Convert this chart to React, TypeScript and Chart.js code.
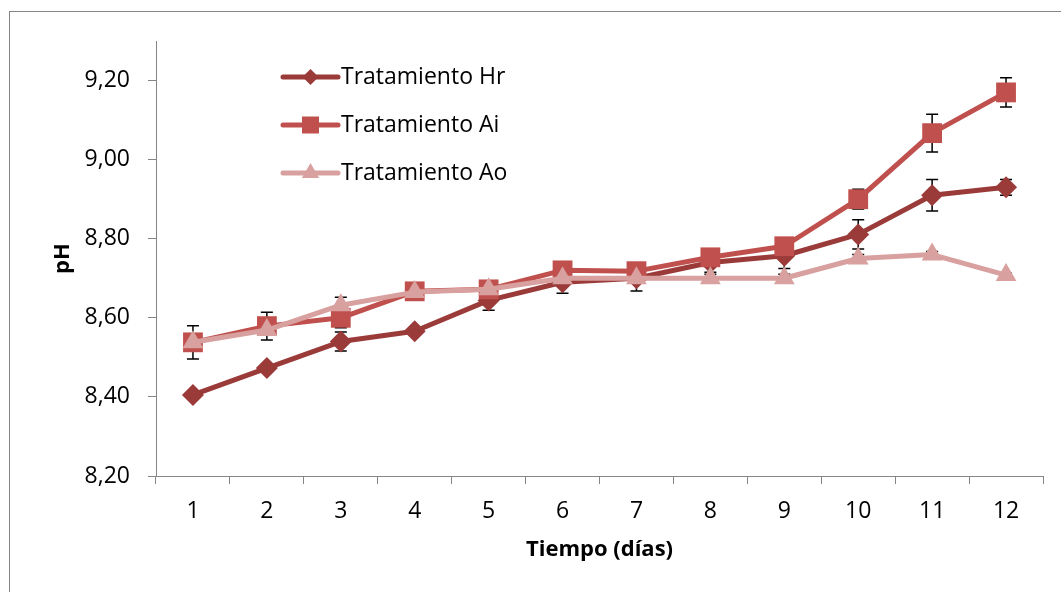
import React, { useEffect, useRef } from "react";
import { Chart, registerables } from "chart.js";

Chart.register(...registerables);

const categories = ["1", "2", "3", "4", "5", "6", "7", "8", "9", "10", "11", "12"];
const hrValues = [8.405, 8.473, 8.54, 8.566, 8.644, 8.69, 8.7, 8.74, 8.757, 8.811, 8.91, 8.93];
const aiValues = [8.538, 8.579, 8.6, 8.667, 8.672, 8.72, 8.718, 8.753, 8.781, 8.9, 9.067, 9.17];
const aoValues = [8.538, 8.569, 8.632, 8.665, 8.672, 8.7, 8.7, 8.7, 8.7, 8.75, 8.76, 8.708];
const hrErrors = [0.01, 0.01, 0.024, 0.005, 0.025, 0.028, 0.032, 0.025, 0.032, 0.037, 0.04, 0.02];
const aiErrors = [0.042, 0.035, 0.025, 0.01, 0.01, 0.01, 0.01, 0.01, 0.01, 0.025, 0.048, 0.037];
const aoErrors = [0.01, 0.01, 0.02, 0.01, 0.01, 0.01, 0.01, 0.01, 0.01, 0.01, 0.008, 0.005];
const yTickValues = [8.2, 8.4, 8.6, 8.8, 9.0, 9.2];
const seriesNames = ["Tratamiento Hr", "Tratamiento Ai", "Tratamiento Ao"];

const FONT = "'Open Sans', Lato, sans-serif";
const AXIS_COLOR = "#868686";

function drawMarker(ctx: CanvasRenderingContext2D, style: string, x: number, y: number, r: number, color: string) {
  ctx.save();
  ctx.fillStyle = color;
  ctx.beginPath();
  if (style === "rectRot") {
    ctx.moveTo(x - r, y);
    ctx.lineTo(x, y - r);
    ctx.lineTo(x + r, y);
    ctx.lineTo(x, y + r);
  } else if (style === "rect") {
    const h = r * Math.SQRT1_2;
    ctx.rect(x - h, y - h, 2 * h, 2 * h);
  } else {
    const a0 = -Math.PI / 2;
    for (let k = 0; k < 3; k++) {
      const a = a0 + (k * 2 * Math.PI) / 3;
      const px = x + r * Math.cos(a);
      const py = y + r * Math.sin(a);
      if (k === 0) ctx.moveTo(px, py);
      else ctx.lineTo(px, py);
    }
  }
  ctx.closePath();
  ctx.fill();
  ctx.restore();
}

const errorBarPlugin = {
  id: "errorBars",
  beforeDatasetsDraw(chart: any) {
    const ctx = chart.ctx;
    const yScale = chart.scales.y;
    ctx.save();
    ctx.strokeStyle = "#000000";
    ctx.lineWidth = 1.5;
    chart.data.datasets.forEach((ds: any, i: number) => {
      const meta = chart.getDatasetMeta(i);
      const errs: number[] = ds.errors || [];
      meta.data.forEach((pt: any, j: number) => {
        const v = ds.data[j];
        const e = errs[j] || 0;
        const x = pt.x;
        const yt = yScale.getPixelForValue(v + e);
        const yb = yScale.getPixelForValue(v - e);
        ctx.beginPath();
        ctx.moveTo(x, yt);
        ctx.lineTo(x, yb);
        ctx.moveTo(x - 6, yt);
        ctx.lineTo(x + 6, yt);
        ctx.moveTo(x - 6, yb);
        ctx.lineTo(x + 6, yb);
        ctx.stroke();
      });
    });
    ctx.restore();
  },
};

const legendPlugin = {
  id: "insideLegend",
  afterDraw(chart: any) {
    const ctx = chart.ctx;
    const area = chart.chartArea;
    const x0 = area.left + 127;
    const x1 = area.left + 182;
    const xm = (x0 + x1) / 2;
    const rows = [77, 125, 173];
    ctx.save();
    chart.data.datasets.forEach((ds: any, k: number) => {
      const y = rows[k];
      ctx.strokeStyle = ds.borderColor;
      ctx.lineWidth = 5;
      ctx.lineCap = "round";
      ctx.beginPath();
      ctx.moveTo(x0, y);
      ctx.lineTo(x1, y);
      ctx.stroke();
      drawMarker(ctx, ds.pointStyle, xm, y, ds.legendRadius, ds.borderColor);
      ctx.fillStyle = "#000000";
      ctx.font = `23px ${FONT}`;
      ctx.textAlign = "left";
      ctx.textBaseline = "middle";
      ctx.fillText(ds.label, x1 + 3, y);
    });
    ctx.restore();
  },
};

const borderPlugin = {
  id: "outerBorder",
  beforeDraw(chart: any) {
    const ctx = chart.ctx;
    ctx.save();
    ctx.fillStyle = "#ffffff";
    ctx.fillRect(0, 0, chart.width, chart.height);
    ctx.strokeStyle = AXIS_COLOR;
    ctx.lineWidth = 1;
    ctx.strokeRect(9.5, 11.5, chart.width + 20, chart.height + 20);
    ctx.restore();
  },
};

export default function App() {
  const canvasRef = useRef<HTMLCanvasElement | null>(null);

  useEffect(() => {
    const canvas = canvasRef.current;
    if (!canvas) return;
    const makeDs = (label: string, data: number[], errors: number[], color: string, style: string, radius: number, legendRadius: number, order: number) => ({
      label,
      data,
      errors,
      borderColor: color,
      backgroundColor: color,
      borderWidth: 5,
      borderJoinStyle: "round",
      borderCapStyle: "round",
      pointStyle: style,
      pointRadius: radius,
      pointHoverRadius: radius,
      pointBackgroundColor: color,
      pointBorderColor: color,
      pointBorderWidth: 0,
      legendRadius,
      tension: 0,
      order,
    });
    const chart = new Chart(canvas, {
      type: "line",
      data: {
        labels: categories,
        datasets: [
          makeDs(seriesNames[0], hrValues, hrErrors, "#9A3B39", "rectRot", 11, 8, 2),
          makeDs(seriesNames[1], aiValues, aiErrors, "#C0504D", "rect", 14, 12, 1),
          makeDs(seriesNames[2], aoValues, aoErrors, "#D8A09E", "triangle", 12, 10, 0),
        ] as any,
      },
      options: {
        responsive: false,
        animation: false,
        layout: { padding: { top: 41, right: 18, left: 0, bottom: 0 } },
        plugins: {
          legend: { display: false },
          tooltip: { enabled: false },
        },
        scales: {
          x: {
            type: "category",
            offset: true,
            grid: {
              offset: true,
              drawOnChartArea: false,
              drawTicks: true,
              tickLength: 8,
              color: AXIS_COLOR,
            },
            border: { display: true, color: AXIS_COLOR, width: 1 },
            ticks: {
              color: "#000000",
              padding: 14,
              maxRotation: 0,
              font: { family: FONT, size: 23 },
            },
            title: {
              display: true,
              text: "Tiempo (días)",
              color: "#000000",
              font: { family: FONT, size: 22, weight: "bold" },
              padding: { top: 0, bottom: 29 },
            },
            afterFit(scale: any) {
              scale.height = 116;
            },
          },
          y: {
            type: "linear",
            min: 8.2,
            max: 9.3,
            grid: {
              drawOnChartArea: false,
              drawTicks: true,
              tickLength: 8,
              color: AXIS_COLOR,
            },
            border: { display: true, color: AXIS_COLOR, width: 1 },
            afterBuildTicks(scale: any) {
              scale.ticks = yTickValues.map((v) => ({ value: v }));
            },
            ticks: {
              color: "#000000",
              padding: 18,
              font: { family: FONT, size: 23 },
              callback: (v: any) => Number(v).toFixed(2).replace(".", ","),
            },
            title: {
              display: true,
              text: "pH",
              color: "#000000",
              font: { family: FONT, size: 22, weight: "bold" },
              padding: { top: 50, bottom: 0 },
            },
            afterFit(scale: any) {
              scale.width = 156;
            },
          },
        },
      } as any,
      plugins: [borderPlugin, errorBarPlugin, legendPlugin],
    });
    return () => chart.destroy();
  }, []);

  return (
    <div style={{ position: "absolute", left: 0, top: 0, width: 1061, height: 592 }}>
      <canvas ref={canvasRef} width={1061} height={592} style={{ display: "block" }} />
    </div>
  );
}
